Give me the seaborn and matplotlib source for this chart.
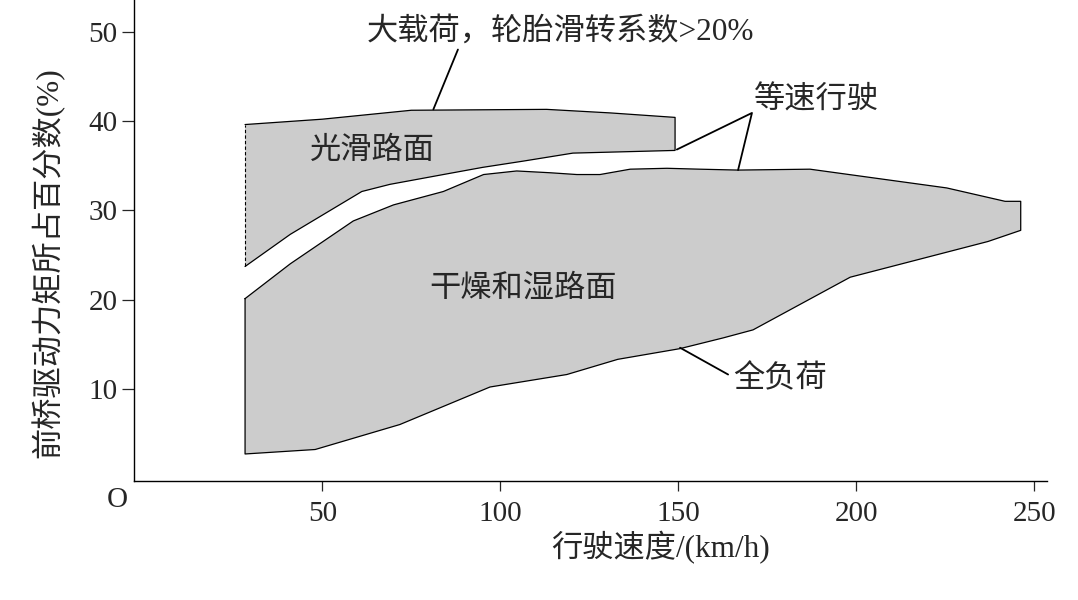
import matplotlib
matplotlib.use("Agg")
import matplotlib.pyplot as plt
import pandas as pd
import seaborn as sns

# 光滑路面 band (upper)
smooth_top_x = [28.3, 50, 75, 113, 131, 149.1]
smooth_top_y = [39.6, 40.2, 41.2, 41.3, 40.9, 40.4]
smooth_bot_x = [28.3, 41, 61.1, 69, 84, 95, 106.4, 120.4, 149.1]
smooth_bot_y = [23.7, 27.3, 32.1, 32.9, 34.0, 34.8, 35.5, 36.4, 36.7]

# 干燥和湿路面 band (lower)
dry_top_x = [28.3, 41, 58.7, 70, 84, 95.3, 104.6, 114, 121.5, 128, 136.5,
             146.8, 156, 166.8, 187, 225.4, 241.8, 246.2]
dry_top_y = [20.1, 24.0, 28.8, 30.6, 32.1, 34.0, 34.4, 34.2, 34.0, 34.0, 34.6,
             34.7, 34.6, 34.5, 34.6, 32.5, 31.0, 31.0]
dry_bot_x = [28.3, 48, 71.8, 97.1, 118.7, 133, 150.5, 162.6, 171, 198.3, 237, 246.2]
dry_bot_y = [2.7, 3.2, 6.0, 10.2, 11.6, 13.3, 14.5, 15.7, 16.6, 22.5, 26.5, 27.75]

x_ticks = [50, 100, 150, 200, 250]
y_ticks = [10, 20, 30, 40, 50]

fill_col = '#cccccc'

sns.set_style("ticks")
plt.rcParams['font.family'] = ['Liberation Serif', 'Noto Sans CJK SC']
plt.rcParams['axes.unicode_minus'] = False

fig = plt.figure(figsize=(10.78, 6), dpi=100)
ax = fig.add_axes([0.1243, 0.198, 0.847, 0.802])

# upper band: fill + outline (left edge dashed)
up_x = smooth_top_x + smooth_bot_x[::-1]
up_y = smooth_top_y + smooth_bot_y[::-1]
ax.fill(up_x, up_y, color=fill_col, lw=0, zorder=1)
sns.lineplot(x=up_x, y=up_y, sort=False, estimator=None, color='black',
             lw=0.9, ax=ax, zorder=2)
sns.lineplot(x=[smooth_bot_x[0], smooth_top_x[0]], y=[smooth_bot_y[0], smooth_top_y[0]],
             sort=False, estimator=None, color='black', lw=0.8,
             linestyle=(0, (3, 2)), ax=ax, zorder=2)

# lower band: fill + closed outline
dry_x = dry_top_x + dry_bot_x[::-1]
dry_y = dry_top_y + dry_bot_y[::-1]
ax.fill(dry_x, dry_y, color=fill_col, lw=0, zorder=1)
sns.lineplot(x=dry_x + [dry_x[0]], y=dry_y + [dry_y[0]], sort=False, estimator=None,
             color='black', lw=0.9, ax=ax, zorder=2)

# leader lines
lead = dict(color='black', lw=1.3, zorder=3, clip_on=False)
ax.plot([88.1, 81.2], [48.0, 41.3], **lead)
ax.plot([149.6, 170.7, 166.8], [36.8, 40.9, 34.5], **lead)
ax.plot([164.0, 150.5], [11.6, 14.6], **lead)

fs = 22.5
ax.text(116.8, 50.0, '大载荷，轮胎滑转系数>20%', fontsize=fs, ha='center', va='center')
ax.text(64.0, 36.6, '光滑路面', fontsize=fs, ha='center', va='center')
ax.text(106.5, 21.1, '干燥和湿路面', fontsize=fs, ha='center', va='center')
ax.text(188.9, 42.2, '等速行驶', fontsize=fs, ha='center', va='center')
ax.text(178.6, 11.0, '全负荷', fontsize=fs, ha='center', va='center')
ax.text(-7.5, -2.5, 'O', fontsize=21, ha='center', va='center', clip_on=False)

ax.set_xlim(-2.9, 253.6)
ax.set_ylim(-0.35, 53.55)
ax.set_xticks(x_ticks)
ax.set_yticks(y_ticks)
ax.tick_params(axis='x', direction='out', length=7, width=0.9, labelsize=21, pad=7)
ax.tick_params(axis='y', direction='out', length=9, width=0.9, labelsize=21, pad=3)

ax.set_xlabel('行驶速度/(km/h)', fontsize=fs)
ax.xaxis.set_label_coords(0.577, -0.139)
ax.xaxis.label.set_va('center')
ax.set_ylabel('前桥驱动力矩所占百分数(%)', fontsize=fs)
ax.yaxis.set_label_coords(-0.094, 0.455)
ax.yaxis.label.set_va('center')

sns.despine(ax=ax)
for s in ['left', 'bottom']:
    ax.spines[s].set_linewidth(1.0)
    ax.spines[s].set_color('black')
ax.grid(False)

fig.savefig('out.png', dpi=100)
